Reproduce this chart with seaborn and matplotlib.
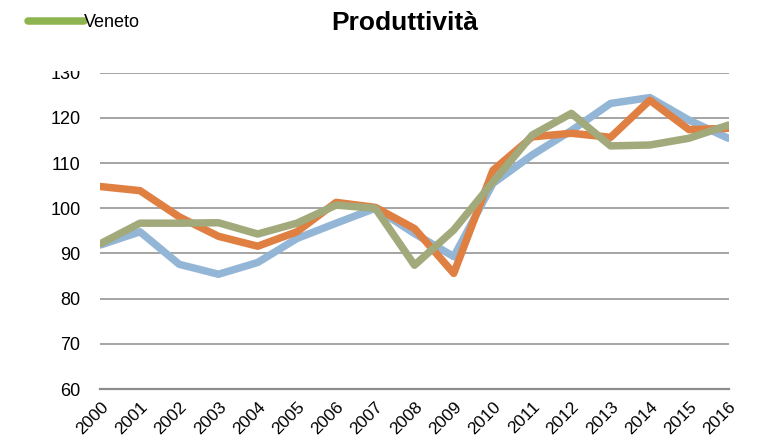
#!/usr/bin/env python3

import pandas as pd
import seaborn as sns
import matplotlib.pyplot as plt
from matplotlib.patches import Rectangle

# Data
years = list(range(2000, 2017))
serie_blu = [91.9, 94.8, 87.6, 85.4, 88.0, 93.3, 96.7, 100.0, 94.4, 89.3,
             105.5, 111.8, 117.2, 123.2, 124.5, 119.5, 115.5]
serie_arancio = [104.8, 103.9, 98.1, 93.8, 91.6, 94.8, 101.3, 100.2, 95.5, 85.6,
                 108.4, 115.8, 116.6, 115.7, 123.9, 117.4, 117.7]
veneto = [92.2, 96.7, 96.7, 96.8, 94.3, 96.7, 100.7, 100.0, 87.4, 95.2,
          105.8, 116.2, 121.0, 113.8, 114.0, 115.5, 118.4]

df = pd.DataFrame({
    "anno": [str(y) for y in years] * 3,
    "valore": serie_blu + serie_arancio + veneto,
    "serie": ["A"] * len(years) + ["B"] * len(years) + ["Veneto"] * len(years),
})

sns.set_theme(style="white", rc={"text.color": "black", "xtick.color": "black",
                                 "ytick.color": "black"})
plt.rcParams['font.family'] = ['Liberation Sans Narrow', 'Liberation Sans', 'DejaVu Sans']

fig = plt.figure(figsize=(7.67, 4.45), dpi=100)
ax = fig.add_axes([0.1304, 0.1258, 0.8201, 0.7108])

palette = {"A": "#93b6d6", "B": "#e07f42", "Veneto": "#a2aa7c"}
sns.lineplot(data=df, x="anno", y="valore", hue="serie", palette=palette,
             linewidth=5.4, ax=ax, legend=False, sort=False)

ax.set_ylim(60, 130)
ax.set_yticks(range(60, 131, 10))
ax.set_xlim(-0.02, len(years) - 1 + 0.02)
ax.grid(axis="y", color="#8c8c8c", linewidth=1.1)
ax.set_axisbelow(True)
for s in ["left", "right", "top"]:
    ax.spines[s].set_visible(False)
ax.spines["bottom"].set_color("#8c8c8c")
ax.spines["bottom"].set_linewidth(1.6)

ax.tick_params(axis="x", direction="inout", length=7, width=1.4, color="#8c8c8c",
               labelsize=12.5, pad=4, labelcolor="black")
ax.tick_params(axis="y", length=0, labelsize=13, pad=14, labelcolor="black")
plt.setp(ax.get_xticklabels(), rotation=45, ha="right", rotation_mode="anchor")
ax.set_xlabel("")
ax.set_ylabel("")

fig.text(0.528, 0.948, "Produttività", ha="center", va="center", color="black",
         fontsize=19, fontweight="bold", family=["Liberation Sans", "DejaVu Sans"])

# white legend area covering the top of the 130 label
fig.patches.append(Rectangle((0, 1 - 71 / 445), 177 / 767, 71 / 445,
                             transform=fig.transFigure, facecolor="white",
                             edgecolor="none", zorder=10))
h = plt.Line2D([], [], color="#8db44e", linewidth=5.4, solid_capstyle="round")
leg = fig.legend([h], ["Veneto"], loc="upper left", bbox_to_anchor=(0.018, 1.0),
                 frameon=False, fontsize=13, handlelength=3.1, handletextpad=0.0,
                 borderpad=0.3, borderaxespad=0.5)
leg.set_zorder(11)

fig.savefig("out.png", dpi=100)
